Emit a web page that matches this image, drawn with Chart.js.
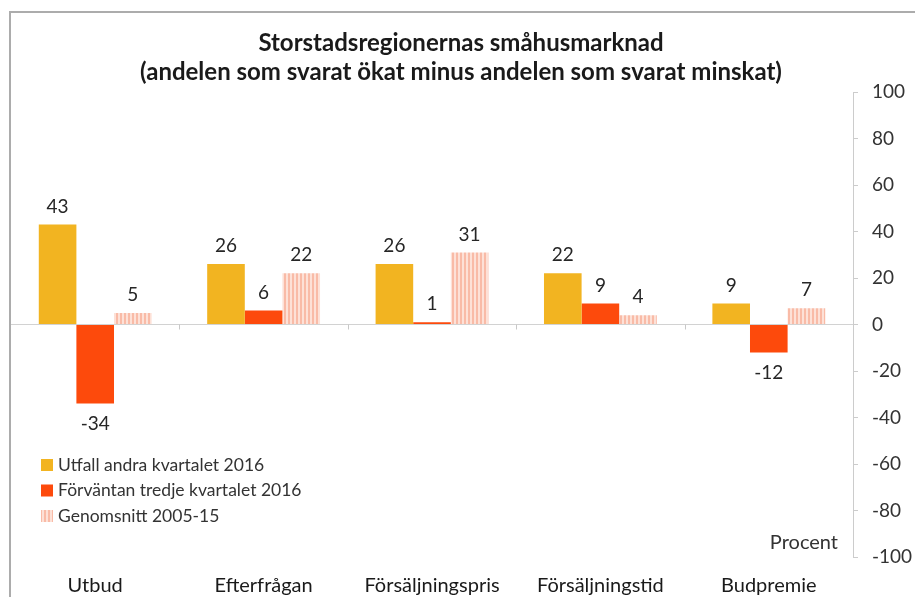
<!DOCTYPE html>
<html>
<head>
<meta charset="utf-8">
<script src="https://cdn.jsdelivr.net/npm/chart.js@4.4.1/dist/chart.umd.min.js"></script>
<style>
    html, body { margin: 0; padding: 0; background: #ffffff; }
    #wrap { width: 915px; height: 597px; }
</style>
</head>
<body>
<div id="wrap"><canvas id="smahusChart" width="915" height="597"></canvas></div>
<script>
// Categories along the x-axis
const categories = ['Utbud', 'Efterfrågan', 'Försäljningspris', 'Försäljningstid', 'Budpremie'];

// Series names (legend)
const seriesNames = ['Utfall andra kvartalet 2016', 'Förväntan tredje kvartalet 2016', 'Genomsnitt 2005-15'];

// Series values
const utfallQ2 = [43, 26, 26, 22, 9];
const forvantanQ3 = [-34, 6, 1, 9, -12];
const genomsnitt = [5, 22, 31, 4, 7];

// y-axis range and step
const yMin = -100;
const yMax = 100;
const yStep = 20;

const titleLines = ['Storstadsregionernas småhusmarknad', '(andelen som svarat ökat minus andelen som svarat minskat)'];
const unitLabel = 'Procent';

const FONT = 'Lato, "Open Sans", sans-serif';
const ctx = document.getElementById('smahusChart').getContext('2d');

// Light pink striped fill for the average series
function stripePattern() {
    const c = document.createElement('canvas');
    c.width = 4;
    c.height = 4;
    const g = c.getContext('2d');
    g.fillStyle = '#fde1d7';
    g.fillRect(0, 0, 4, 4);
    g.fillStyle = '#f9bba7';
    g.fillRect(0, 0, 2, 4);
    return ctx.createPattern(c, 'repeat');
}

const colors = ['#f2b421', '#fd4a0c', stripePattern()];

// Draws the frame, title, value labels, legend, unit text and category tick marks
const extrasPlugin = {
    id: 'extras',
    beforeDraw(chart) {
        const c = chart.ctx;
        c.save();
        // thin grey frame at top and left
        c.strokeStyle = '#acacac';
        c.lineWidth = 2;
        c.beginPath();
        c.moveTo(10, 597);
        c.lineTo(10, 12);
        c.lineTo(915, 12);
        c.stroke();
        // two-line title
        c.font = 'bold 24px ' + FONT;
        c.fillStyle = '#1a1a1a';
        c.textAlign = 'center';
        c.textBaseline = 'middle';
        c.fillText(titleLines[0], 461, 43);
        c.fillText(titleLines[1], 461, 72);
        c.restore();
    },
    afterDatasetsDraw(chart) {
        const c = chart.ctx;
        c.save();
        c.font = '19px ' + FONT;
        c.fillStyle = '#262626';
        c.textAlign = 'center';
        c.textBaseline = 'middle';
        chart.data.datasets.forEach((ds, di) => {
            const meta = chart.getDatasetMeta(di);
            meta.data.forEach((bar, i) => {
                const v = ds.data[i];
                const y = v >= 0 ? bar.y - 18 : bar.y + 20;
                c.fillText(String(v), bar.x, y);
            });
        });
        c.restore();
    },
    afterDraw(chart) {
        const c = chart.ctx;
        const xs = chart.scales.x;
        const ys = chart.scales.y;
        const y0 = ys.getPixelForValue(0);
        c.save();
        // small tick marks between the categories on the zero line
        c.strokeStyle = '#c8c8c8';
        c.lineWidth = 1;
        for (let i = 1; i < categories.length; i++) {
            const x = Math.round((xs.getPixelForValue(i - 1) + xs.getPixelForValue(i)) / 2) + 0.5;
            c.beginPath();
            c.moveTo(x, y0);
            c.lineTo(x, y0 + 5);
            c.stroke();
        }
        // legend in the lower left corner
        c.font = '17.5px ' + FONT;
        c.textAlign = 'left';
        c.textBaseline = 'middle';
        seriesNames.forEach((name, i) => {
            const ly = 465 + i * 25.5;
            c.fillStyle = colors[i];
            c.fillRect(41, ly - 6, 12, 12);
            c.fillStyle = '#333333';
            c.fillText(name, 58, ly);
        });
        // unit text
        c.font = '20px ' + FONT;
        c.textAlign = 'right';
        c.fillStyle = '#333333';
        c.fillText(unitLabel, 838, 543);
        c.restore();
    }
};

const chart = new Chart(ctx, {
    type: 'bar',
    data: {
        labels: categories,
        datasets: [utfallQ2, forvantanQ3, genomsnitt].map((values, i) => ({
            label: seriesNames[i],
            data: values,
            backgroundColor: colors[i],
            borderWidth: 0,
            barPercentage: 1,
            categoryPercentage: 0.67
        }))
    },
    options: {
        responsive: false,
        animation: false,
        devicePixelRatio: 1,
        layout: {
            padding: { top: 92, left: 11, right: 0, bottom: 0 }
        },
        plugins: {
            legend: { display: false },
            tooltip: { enabled: false },
            title: { display: false }
        },
        scales: {
            x: {
                afterFit(scale) { scale.height = 40; },
                grid: { display: false, drawTicks: false },
                border: { display: false },
                ticks: {
                    color: '#1a1a1a',
                    padding: 17,
                    maxRotation: 0,
                    font: { family: FONT, size: 20 }
                }
            },
            y: {
                position: 'right',
                min: yMin,
                max: yMax,
                afterFit(scale) { scale.width = 62; },
                border: { display: true, color: '#cccccc' },
                grid: {
                    color: (c) => (c.tick && c.tick.value === 0 ? '#d2d2d2' : 'rgba(0,0,0,0)'),
                    tickColor: '#cccccc',
                    tickLength: 5
                },
                ticks: {
                    stepSize: yStep,
                    padding: 14,
                    color: '#333333',
                    font: { family: FONT, size: 19 }
                }
            }
        }
    },
    plugins: [extrasPlugin]
});
</script>
</body>
</html>
